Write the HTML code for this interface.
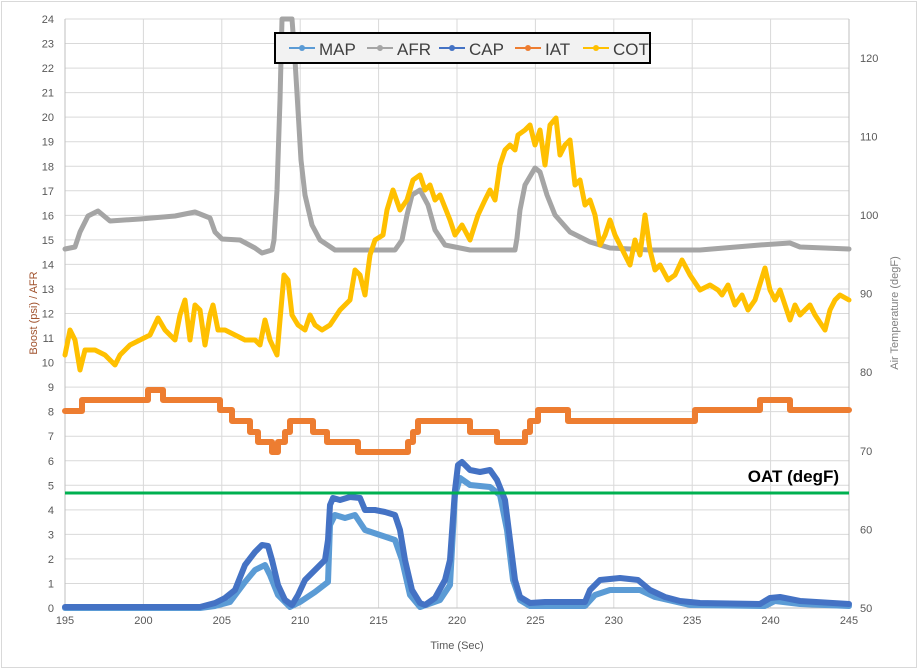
<!DOCTYPE html>
<html><head><meta charset="utf-8"><style>
body{margin:0;background:#fff}
svg{display:block;font-family:"Liberation Sans",sans-serif}
</style></head><body>
<svg id="c" width="920" height="671" viewBox="0 0 920 671"></svg>
<script>
const s=document.getElementById('c');let h='';
h+='<rect x="1.5" y="1.5" width="915" height="666" fill="#fff" stroke="#d9d9d9"/>';
const L=65,R=849,T=19,B=608;
for(let i=0;i<=24;i++){const y=B-i*(B-T)/24;h+=`<line x1="${L}" x2="${R}" y1="${y}" y2="${y}" stroke="#d9d9d9"/>`;
h+=`<text x="54" y="${y+4}" font-size="11" fill="#595959" text-anchor="end">${i}</text>`;}
for(let i=0;i<=10;i++){const x=L+i*(R-L)/10;h+=`<line x1="${x}" x2="${x}" y1="${T}" y2="${B}" stroke="#d9d9d9"/>`;
h+=`<text x="${x}" y="624" font-size="11" fill="#595959" text-anchor="middle">${195+i*5}</text>`;}
for(let i=0;i<=7;i++){const y=B-i*78.6;h+=`<text x="860" y="${y+4}" font-size="11" fill="#595959">${50+i*10}</text>`;}
h+=`<line x1="${L}" x2="${L}" y1="${T}" y2="${B}" stroke="#bfbfbf"/><line x1="${R}" x2="${R}" y1="${T}" y2="${B}" stroke="#bfbfbf"/><line x1="${L}" x2="${R}" y1="${B}" y2="${B}" stroke="#bfbfbf"/>`;
h+='<text x="457" y="649" font-size="11" fill="#595959" text-anchor="middle">Time (Sec)</text>';
h+='<text transform="translate(37,313) rotate(-90)" font-size="11" fill="#a0522d" text-anchor="middle">Boost (psi) / AFR</text>';
h+='<text transform="translate(898,313) rotate(-90)" font-size="11" fill="#7f7f7f" text-anchor="middle">Air Temperature (degF)</text>';
function pl(p,c,w){return `<polyline points="${p.map(a=>a.join(',')).join(' ')}" fill="none" stroke="${c}" stroke-width="${w}" stroke-linejoin="round" stroke-linecap="round"/>`}
const afr=[[65,249],[75,247],[80,232],[88,216],[98,211],[110,221],[140,219],[175,216],[195,212],[210,218],[215,232],[222,239],[240,240],[255,248],[262,253],[272,250],[274,240],[277,190],[280,100],[282,19],[292,19],[295,60],[298,110],[301,160],[305,195],[312,225],[320,240],[335,250],[360,250],[395,250],[402,240],[407,215],[412,195],[420,190],[428,205],[435,230],[445,245],[470,250],[515,250],[517,238],[520,210],[525,185],[535,168],[540,172],[547,195],[555,215],[570,232],[590,242],[610,248],[650,250],[700,250],[760,245],[790,243],[800,247],[849,249]];
const cot=[[65,355],[70,330],[75,340],[80,370],[85,350],[95,350],[105,355],[115,365],[120,355],[130,345],[140,340],[150,335],[158,318],[165,330],[175,340],[180,315],[185,300],[190,340],[195,305],[200,310],[205,345],[210,315],[213,305],[218,330],[225,330],[235,335],[245,340],[255,340],[260,345],[265,320],[270,340],[277,355],[280,320],[284,275],[288,280],[292,315],[298,325],[305,330],[310,315],[315,325],[322,330],[330,325],[340,310],[345,305],[350,300],[355,270],[360,275],[365,295],[368,270],[370,255],[375,240],[383,235],[387,210],[393,190],[400,210],[407,200],[413,180],[420,175],[425,190],[430,185],[435,200],[440,195],[450,220],[455,235],[462,225],[470,240],[478,215],[485,200],[490,190],[495,200],[500,165],[505,150],[510,145],[515,150],[518,135],[525,130],[530,125],[535,145],[540,130],[545,165],[550,125],[556,118],[560,155],[565,145],[570,140],[575,185],[580,180],[585,205],[590,200],[595,215],[600,245],[605,235],[610,220],[615,235],[620,245],[625,255],[630,265],[635,240],[640,255],[645,215],[650,250],[655,270],[660,265],[668,280],[675,275],[682,260],[690,275],[700,290],[710,285],[718,290],[722,295],[728,285],[735,305],[742,295],[748,310],[755,300],[765,268],[770,290],[775,300],[780,290],[790,320],[795,305],[800,315],[805,310],[810,305],[815,315],[825,330],[830,310],[835,300],[840,295],[849,300]];
const st=[[65,411],[82,400],[148,390],[163,400],[220,410],[232,421],[250,432],[258,442],[272,452],[278,442],[285,432],[290,421],[313,432],[327,442],[358,452],[408,442],[413,432],[418,421],[470,432],[497,442],[525,432],[530,421],[538,410],[568,421],[695,410],[760,400],[790,410],[849,410]];
const iat=[];for(let i=0;i<st.length;i++){if(i>0)iat.push([st[i][0],st[i-1][1]]);iat.push(st[i]);}
const cap=[[65,607],[200,607],[215,603],[225,598],[235,590],[245,565],[255,552],[262,545],[268,546],[272,560],[278,585],[285,600],[292,605],[298,595],[305,580],[315,570],[325,560],[328,540],[330,505],[333,498],[340,500],[350,497],[360,498],[365,510],[375,510],[385,512],[395,515],[400,530],[405,560],[412,590],[420,603],[425,605],[435,598],[445,580],[450,560],[455,490],[458,465],[462,462],[470,470],[480,472],[490,470],[497,480],[505,500],[510,540],[515,580],[520,597],[530,603],[545,602],[585,602],[590,590],[600,580],[620,578],[638,580],[650,590],[665,597],[680,601],[700,603],[760,604],[770,598],[780,597],[800,601],[849,604]];
const map=[[65,608],[200,608],[215,606],[230,602],[245,582],[255,570],[265,565],[270,575],[278,595],[290,607],[300,602],[315,592],[328,582],[330,525],[335,515],[345,518],[355,515],[365,530],[380,535],[395,540],[402,560],[410,595],[420,607],[440,600],[450,585],[455,495],[460,478],[470,485],[490,487],[500,495],[507,530],[513,580],[520,600],[530,606],[585,606],[595,595],[610,590],[640,590],[655,597],[690,605],[765,606],[775,601],[800,604],[849,606]];
h+=pl(afr,'#a5a5a5',5)+pl(cot,'#ffc000',5)+pl(iat,'#ed7d31',6)+pl(map,'#5b9bd5',6)+pl(cap,'#4472c4',6);
h+='<line x1="65" x2="849" y1="493" y2="493" stroke="#00b050" stroke-width="3"/>';
h+='<text x="839" y="482" font-size="17" font-weight="bold" text-anchor="end" fill="#000">OAT (degF)</text>';
h+='<rect x="275" y="33" width="375" height="30" fill="#f2f2f2" stroke="#000" stroke-width="2"/>';
const lg=[['MAP','#5b9bd5',289],['AFR','#a5a5a5',367],['CAP','#4472c4',439],['IAT','#ed7d31',515],['COT','#ffc000',583]];
for(const [t,c,x] of lg){h+=`<line x1="${x}" x2="${x+26}" y1="48" y2="48" stroke="${c}" stroke-width="2"/><circle cx="${x+13}" cy="48" r="3" fill="${c}"/><text x="${x+30}" y="55" font-size="17" fill="#404040">${t}</text>`;}
s.innerHTML=h;
</script>
</body></html>
